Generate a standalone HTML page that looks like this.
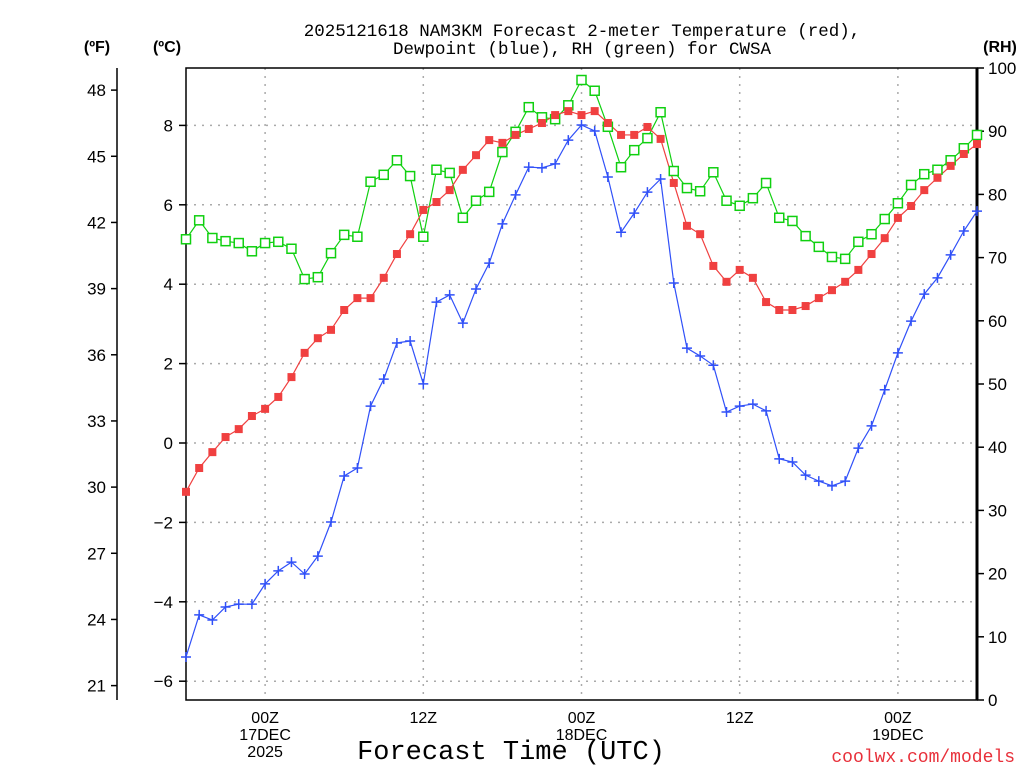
<!DOCTYPE html>
<html><head><meta charset="utf-8"><style>
html,body{margin:0;padding:0;background:#fff;}
svg text{font-family:"Liberation Sans",sans-serif;}
svg text.mono{font-family:"Liberation Mono",monospace;}
</style></head><body>
<svg id="chart" width="1024" height="768" xmlns="http://www.w3.org/2000/svg">
<g id="grid"></g>
<g id="axes"></g>
<g id="series"></g>
<text class="mono" x="582" y="36" text-anchor="middle" font-size="17.5">2025121618 NAM3KM Forecast 2-meter Temperature (red),</text>
<text class="mono" x="582" y="54" text-anchor="middle" font-size="17.5">Dewpoint (blue), RH (green) for CWSA</text>
<text x="97" y="52" text-anchor="middle" font-size="16" font-weight="bold">(ºF)</text>
<text x="167" y="52" text-anchor="middle" font-size="16" font-weight="bold">(ºC)</text>
<text x="1000" y="52" text-anchor="middle" font-size="16" font-weight="bold">(RH)</text>
<text class="mono" x="511" y="759" text-anchor="middle" font-size="27">Forecast Time (UTC)</text>
<text class="mono" x="1015" y="762" text-anchor="end" font-size="18" fill="#e8303a">coolwx.com/models</text>
</svg>
<script>
const hours = Array.from({length:61},(_,i)=>i);
const tempC = [-1.23,-0.63,-0.23,0.15,0.35,0.68,0.86,1.16,1.66,2.27,2.64,2.85,3.35,3.65,3.65,4.16,4.76,5.26,5.87,6.07,6.37,6.88,7.25,7.63,7.56,7.76,7.91,8.06,8.26,8.36,8.26,8.36,8.06,7.76,7.76,7.96,7.66,6.55,5.47,5.26,4.46,4.06,4.36,4.16,3.55,3.35,3.35,3.45,3.65,3.85,4.06,4.36,4.76,5.16,5.67,5.97,6.37,6.68,6.98,7.28,7.53];
const dewC = [-5.39,-4.33,-4.46,-4.13,-4.06,-4.06,-3.55,-3.22,-3.0,-3.3,-2.85,-1.99,-0.83,-0.63,0.93,1.61,2.52,2.57,1.49,3.55,3.73,3.02,3.88,4.53,5.52,6.25,6.95,6.93,7.03,7.63,8.01,7.86,6.70,5.31,5.79,6.32,6.65,4.03,2.39,2.19,1.96,0.78,0.93,0.98,0.81,-0.40,-0.48,-0.81,-0.96,-1.08,-0.96,-0.13,0.43,1.34,2.27,3.07,3.75,4.16,4.74,5.34,5.84];
const rh = [72.9,75.9,73.1,72.6,72.3,71.0,72.3,72.5,71.4,66.6,66.9,70.7,73.6,73.3,82.0,83.1,85.4,82.9,73.3,83.9,83.4,76.3,79.0,80.4,86.7,89.9,93.8,92.2,91.9,94.1,98.1,96.4,90.7,84.3,87.0,88.9,93.0,83.7,81.0,80.5,83.5,79.0,78.2,79.4,81.8,76.3,75.8,73.4,71.7,70.1,69.8,72.5,73.7,76.1,78.6,81.5,83.2,83.9,85.4,87.3,89.4];
const cTicks = [-6,-4,-2,0,2,4,6,8];
const fTicks = [21,24,27,30,33,36,39,42,45,48];
const rhTicks = [0,10,20,30,40,50,60,70,80,90,100];
const xTickHours = [6,18,30,42,54];
const xTickLabels = [["00Z","17DEC","2025"],["12Z"],["00Z","18DEC"],["12Z"],["00Z","19DEC"]];

const L=186,R=977,T=68,B=700;
const xS=h=>L+(R-L)*h/60;
const yC=c=>443-39.7*c;
const yF=f=>yC((f-32)/1.8);
const yR=r=>B-(B-T)*r/100;
const NS="http://www.w3.org/2000/svg";
function mk(tag,attrs,parent){const e=document.createElementNS(NS,tag);for(const k in attrs)e.setAttribute(k,attrs[k]);parent.appendChild(e);return e;}
const grid=document.getElementById('grid'),axes=document.getElementById('axes'),series=document.getElementById('series');

cTicks.forEach(c=>{
  const g=mk('line',{x1:L,x2:R,y1:yC(c),y2:yC(c),stroke:'#aaa','stroke-dasharray':'2,6','stroke-width':1.5},grid);
  
  
  const t=mk('line',{x1:L-7,x2:L,y1:yC(c),y2:yC(c),stroke:'#000','stroke-width':1.5},axes);
  
  
  const lb=mk('text',{x:L-13,y:yC(c)+6,'text-anchor':'end','font-size':17},axes);
  lb.textContent=(c<0?'\u2212'+(-c):c);
  
  
});
xTickHours.forEach((h,i)=>{
  const g=mk('line',{x1:xS(h),x2:xS(h),y1:T,y2:B,stroke:'#aaa','stroke-dasharray':'2,6','stroke-width':1.5},grid);
  
  
  xTickLabels[i].forEach((s,j)=>{
    const lb=mk('text',{x:xS(h),y:723+j*17,'text-anchor':'middle','font-size':16},axes);
    lb.textContent=s;
    
    
  });
});
fTicks.forEach(f=>{
  const t=mk('line',{x1:111,x2:117,y1:yF(f),y2:yF(f),stroke:'#000','stroke-width':1.5},axes);
  
  
  const lb=mk('text',{x:106,y:yF(f)+6,'text-anchor':'end','font-size':17},axes);
  lb.textContent=f;
  
  
});
rhTicks.forEach(r=>{
  const t=mk('line',{x1:R,x2:R+7,y1:yR(r),y2:yR(r),stroke:'#000','stroke-width':1.5},axes);
  
  
  const lb=mk('text',{x:R+11,y:yR(r)+6,'text-anchor':'start','font-size':17},axes);
  lb.textContent=r;
  
  
});
const fr=mk('rect',{x:L,y:T,width:R-L,height:B-T,fill:'none',stroke:'#000','stroke-width':1.5},axes);


const ra=mk('line',{x1:R,x2:R,y1:T,y2:B,stroke:'#000','stroke-width':3},axes);


const fa=mk('line',{x1:117,x2:117,y1:T,y2:B,stroke:'#000','stroke-width':1.5},axes);



function drawLine(vals,yf,color,name){
  const p=mk('polyline',{points:vals.map((v,i)=>xS(hours[i])+','+yf(v)).join(' '),fill:'none',stroke:color,'stroke-width':1.2},series);
  
  
}
drawLine(rh,yR,'#10d010','rh');
drawLine(tempC,yC,'#f04040','temperature');
drawLine(dewC,yC,'#3050f8','dewpoint');
rh.forEach((v,i)=>{
  const m=mk('rect',{x:xS(hours[i])-4.5,y:yR(v)-4.5,width:9,height:9,fill:'#fff',stroke:'#10d010','stroke-width':1.5},series);
  
  
});
tempC.forEach((v,i)=>{
  const m=mk('rect',{x:xS(hours[i])-4,y:yC(v)-4,width:8,height:8,fill:'#f04040'},series);
  
  
});
dewC.forEach((v,i)=>{
  const x=xS(hours[i]),y=yC(v);
  const m=mk('path',{d:`M${x-5},${y}H${x+5}M${x},${y-5}V${y+5}`,stroke:'#3050f8','stroke-width':1.5},series);
  
  
});
</script>
</body></html>
